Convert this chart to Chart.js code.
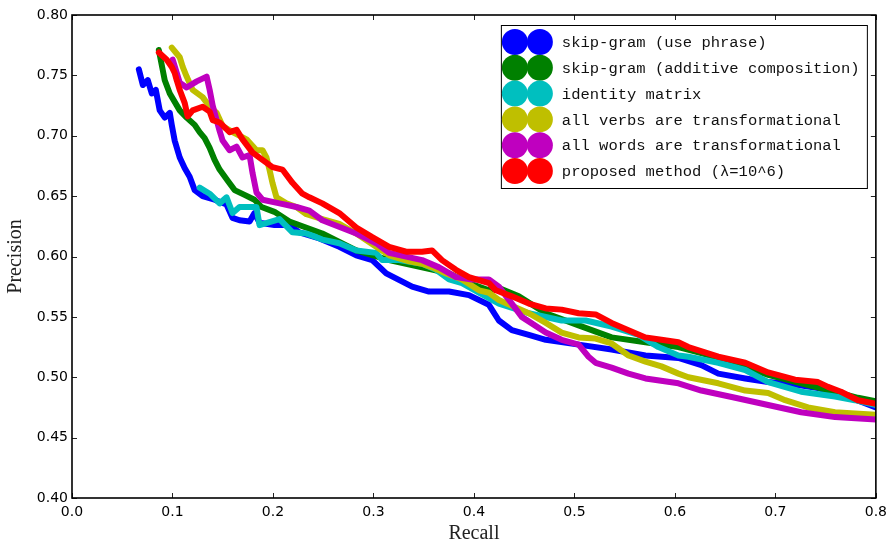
<!DOCTYPE html>
<html>
<head>
<meta charset="utf-8">
<script src="https://cdn.jsdelivr.net/npm/chart.js@4"></script>
<style>
  body { margin: 0; background: #fff; }
  #wrap { width: 893px; height: 544px; }
</style>
</head>
<body>
<div id="wrap"><canvas id="prCurve" width="893" height="544"></canvas></div>
<script>
// precision / recall points per method
const blueRecall = [0.0665, 0.0705, 0.0754, 0.0794, 0.0834, 0.0873, 0.0923, 0.0973, 0.0993, 0.1022, 0.1072, 0.1122, 0.1171, 0.1221, 0.1300, 0.1419, 0.1538, 0.1597, 0.1667, 0.1767, 0.1816, 0.1866, 0.2015, 0.2164, 0.2263, 0.2462, 0.2660, 0.2829, 0.2988, 0.3127, 0.3385, 0.3553, 0.3752, 0.3950, 0.4149, 0.4248, 0.4377, 0.4546, 0.4715, 0.5042, 0.5370, 0.5707, 0.6035, 0.6263, 0.6432, 0.6700, 0.6928, 0.7196, 0.7424, 0.7692, 0.8000];
const bluePrecision = [0.755, 0.742, 0.746, 0.735, 0.738, 0.721, 0.715, 0.719, 0.709, 0.696, 0.682, 0.673, 0.666, 0.655, 0.650, 0.647, 0.643, 0.632, 0.630, 0.629, 0.636, 0.628, 0.626, 0.626, 0.620, 0.615, 0.608, 0.601, 0.597, 0.586, 0.575, 0.571, 0.571, 0.568, 0.560, 0.547, 0.539, 0.535, 0.531, 0.527, 0.523, 0.518, 0.516, 0.510, 0.503, 0.499, 0.496, 0.494, 0.491, 0.485, 0.475];

const greenRecall = [0.0864, 0.0923, 0.0973, 0.1072, 0.1141, 0.1221, 0.1270, 0.1320, 0.1370, 0.1419, 0.1469, 0.1548, 0.1618, 0.1717, 0.1816, 0.1886, 0.2015, 0.2164, 0.2491, 0.2829, 0.3156, 0.3484, 0.3752, 0.3950, 0.4149, 0.4248, 0.4447, 0.4715, 0.5042, 0.5370, 0.5707, 0.6035, 0.6263, 0.6600, 0.6928, 0.7256, 0.7593, 0.7821, 0.8000];
const greenPrecision = [0.771, 0.746, 0.735, 0.721, 0.715, 0.709, 0.703, 0.698, 0.690, 0.680, 0.672, 0.663, 0.655, 0.651, 0.647, 0.641, 0.637, 0.629, 0.619, 0.605, 0.597, 0.591, 0.586, 0.578, 0.572, 0.574, 0.567, 0.553, 0.543, 0.533, 0.529, 0.525, 0.520, 0.512, 0.502, 0.495, 0.488, 0.483, 0.480];

const cyanRecall = [0.1270, 0.1370, 0.1469, 0.1538, 0.1598, 0.1667, 0.1836, 0.1866, 0.2065, 0.2194, 0.2333, 0.2432, 0.2491, 0.2660, 0.2829, 0.3027, 0.3087, 0.3256, 0.3484, 0.3623, 0.3752, 0.3881, 0.4050, 0.4248, 0.4546, 0.4873, 0.5112, 0.5370, 0.5638, 0.5836, 0.6035, 0.6134, 0.6432, 0.6700, 0.6928, 0.7256, 0.7593, 0.7791, 0.8000];
const cyanPrecision = [0.657, 0.652, 0.644, 0.649, 0.636, 0.641, 0.641, 0.626, 0.631, 0.620, 0.619, 0.616, 0.614, 0.611, 0.605, 0.603, 0.597, 0.597, 0.594, 0.589, 0.581, 0.578, 0.570, 0.561, 0.553, 0.547, 0.547, 0.542, 0.535, 0.525, 0.518, 0.517, 0.512, 0.506, 0.496, 0.488, 0.484, 0.481, 0.477];

const yellowRecall = [0.0993, 0.1072, 0.1102, 0.1141, 0.1201, 0.1300, 0.1370, 0.1439, 0.1499, 0.1598, 0.1737, 0.1836, 0.1896, 0.1935, 0.1965, 0.1995, 0.2035, 0.2134, 0.2233, 0.2333, 0.2491, 0.2660, 0.2829, 0.3027, 0.3156, 0.3355, 0.3484, 0.3583, 0.3722, 0.3881, 0.4050, 0.4149, 0.4248, 0.4546, 0.4715, 0.4873, 0.5042, 0.5211, 0.5370, 0.5538, 0.5707, 0.5866, 0.6035, 0.6134, 0.6432, 0.6700, 0.6928, 0.7097, 0.7325, 0.7593, 0.7791, 0.8000];
const yellowPrecision = [0.773, 0.765, 0.757, 0.749, 0.738, 0.732, 0.724, 0.719, 0.708, 0.703, 0.697, 0.688, 0.688, 0.682, 0.672, 0.661, 0.649, 0.644, 0.641, 0.635, 0.631, 0.627, 0.619, 0.608, 0.601, 0.596, 0.594, 0.591, 0.586, 0.581, 0.572, 0.570, 0.564, 0.553, 0.545, 0.537, 0.533, 0.532, 0.528, 0.518, 0.513, 0.509, 0.503, 0.500, 0.495, 0.489, 0.487, 0.481, 0.475, 0.471, 0.470, 0.469];

const magentaRecall = [0.1002, 0.1072, 0.1141, 0.1241, 0.1340, 0.1370, 0.1400, 0.1469, 0.1499, 0.1568, 0.1638, 0.1697, 0.1767, 0.1797, 0.1836, 0.1896, 0.2065, 0.2233, 0.2362, 0.2491, 0.2829, 0.3027, 0.3156, 0.3484, 0.3653, 0.3821, 0.3980, 0.4149, 0.4248, 0.4377, 0.4476, 0.4715, 0.4873, 0.5042, 0.5141, 0.5211, 0.5370, 0.5538, 0.5707, 0.6035, 0.6263, 0.6600, 0.6928, 0.7256, 0.7593, 0.8000];
const magentaPrecision = [0.763, 0.744, 0.740, 0.745, 0.749, 0.738, 0.725, 0.704, 0.696, 0.688, 0.691, 0.682, 0.684, 0.669, 0.653, 0.647, 0.644, 0.641, 0.638, 0.630, 0.619, 0.611, 0.603, 0.597, 0.591, 0.583, 0.581, 0.581, 0.575, 0.561, 0.550, 0.537, 0.531, 0.527, 0.517, 0.512, 0.508, 0.503, 0.499, 0.495, 0.489, 0.483, 0.477, 0.471, 0.467, 0.465];

const redRecall = [0.0864, 0.0943, 0.0993, 0.1022, 0.1042, 0.1072, 0.1122, 0.1151, 0.1201, 0.1300, 0.1370, 0.1400, 0.1469, 0.1568, 0.1638, 0.1697, 0.1797, 0.1896, 0.1995, 0.2094, 0.2194, 0.2293, 0.2362, 0.2491, 0.2660, 0.2829, 0.2988, 0.3156, 0.3325, 0.3484, 0.3583, 0.3682, 0.3821, 0.3950, 0.4149, 0.4218, 0.4377, 0.4546, 0.4715, 0.4873, 0.5042, 0.5211, 0.5370, 0.5538, 0.5707, 0.5866, 0.6035, 0.6134, 0.6432, 0.6700, 0.6928, 0.7196, 0.7424, 0.7524, 0.7653, 0.7821, 0.8000];
const redPrecision = [0.769, 0.763, 0.757, 0.752, 0.746, 0.738, 0.727, 0.716, 0.721, 0.724, 0.720, 0.713, 0.711, 0.703, 0.705, 0.697, 0.686, 0.680, 0.674, 0.672, 0.661, 0.652, 0.649, 0.644, 0.636, 0.624, 0.616, 0.608, 0.604, 0.604, 0.605, 0.597, 0.589, 0.583, 0.578, 0.572, 0.567, 0.561, 0.557, 0.556, 0.553, 0.552, 0.545, 0.539, 0.533, 0.531, 0.529, 0.525, 0.517, 0.512, 0.504, 0.498, 0.496, 0.492, 0.488, 0.481, 0.478];

const methodNames = [
  'skip-gram (use phrase)',
  'skip-gram (additive composition)',
  'identity matrix',
  'all verbs are transformational',
  'all words are transformational',
  'proposed method (λ=10^6)'
];
const methodColors = ['#0000ff', '#008000', '#00bfbf', '#bfbf00', '#bf00bf', '#ff0000'];

const xTicks = [0, 0.1, 0.2, 0.3, 0.4, 0.5, 0.6, 0.7, 0.8];
const yTicks = [0.40, 0.45, 0.50, 0.55, 0.60, 0.65, 0.70, 0.75, 0.80];

const recalls = [blueRecall, greenRecall, cyanRecall, yellowRecall, magentaRecall, redRecall];
const precisions = [bluePrecision, greenPrecision, cyanPrecision, yellowPrecision, magentaPrecision, redPrecision];

const datasets = methodNames.map((name, i) => ({
  label: name,
  data: recalls[i].map((r, j) => ({ x: r, y: precisions[i][j] })),
  showLine: true,
  borderColor: methodColors[i],
  backgroundColor: methodColors[i],
  borderWidth: 6,
  borderJoinStyle: 'round',
  borderCapStyle: 'round',
  pointRadius: 0,
  tension: 0,
  order: methodNames.length - i   // later methods drawn on top
}));

// frame around the plot with inward ticks on all four sides
const frameTicks = {
  id: 'frameTicks',
  afterDatasetsDraw(chart) {
    const { ctx, chartArea: a, scales } = chart;
    ctx.save();
    ctx.strokeStyle = '#222';
    ctx.lineWidth = 1;
    xTicks.forEach(v => {
      const px = Math.round(scales.x.getPixelForValue(v)) + 0.5;
      ctx.beginPath();
      ctx.moveTo(px, a.bottom); ctx.lineTo(px, a.bottom - 5);
      ctx.moveTo(px, a.top); ctx.lineTo(px, a.top + 5);
      ctx.stroke();
    });
    yTicks.forEach(v => {
      const py = Math.round(scales.y.getPixelForValue(v)) + 0.5;
      ctx.beginPath();
      ctx.moveTo(a.left, py); ctx.lineTo(a.left + 5, py);
      ctx.moveTo(a.right, py); ctx.lineTo(a.right - 5, py);
      ctx.stroke();
    });
    ctx.strokeStyle = '#000';
    ctx.lineWidth = 1.6;
    ctx.strokeRect(a.left, a.top, a.right - a.left, a.bottom - a.top);
    ctx.restore();
  }
};

// legend box in the upper right, two large dots per entry
const dotLegend = {
  id: 'dotLegend',
  afterDraw(chart) {
    const { ctx, chartArea: a } = chart;
    const w = 366, h = 163;
    const left = a.right - 9 - w, top = a.top + 10;
    ctx.save();
    ctx.fillStyle = '#fff';
    ctx.fillRect(left, top, w, h);
    ctx.strokeStyle = '#000';
    ctx.lineWidth = 1;
    ctx.strokeRect(left + 0.5, top + 0.5, w, h);
    ctx.font = '15.5px "Liberation Mono", monospace';
    ctx.textBaseline = 'middle';
    methodNames.forEach((name, i) => {
      const cy = top + 17 + i * 25.8;
      ctx.fillStyle = methodColors[i];
      [left + 14, left + 39].forEach(cx => {
        ctx.beginPath();
        ctx.arc(cx, cy, 13, 0, Math.PI * 2);
        ctx.fill();
      });
      ctx.fillStyle = '#111';
      ctx.fillText(name, left + 61, cy + 1);
    });
    ctx.restore();
  }
};

new Chart(document.getElementById('prCurve'), {
  type: 'scatter',
  data: { datasets },
  plugins: [frameTicks, dotLegend],
  options: {
    responsive: false,
    animation: false,
    layout: { padding: { left: 0, top: 15, right: 15, bottom: 0 } },
    plugins: { legend: { display: false }, tooltip: { enabled: false } },
    scales: {
      x: {
        type: 'linear',
        min: 0, max: 0.8,
        afterFit(scale) { scale.height = 46; },
        afterBuildTicks(scale) { scale.ticks = xTicks.map(v => ({ value: v })); },
        grid: { display: false, drawTicks: false },
        border: { display: false },
        ticks: {
          padding: 6,
          color: '#000',
          font: { family: '"DejaVu Sans", sans-serif', size: 14 },
          callback: v => v.toFixed(1)
        },
        title: {
          display: true,
          text: 'Recall',
          color: '#222',
          font: { family: '"Liberation Serif", serif', size: 20, lineHeight: 1 },
          padding: { top: 0, bottom: 0 }
        }
      },
      y: {
        type: 'linear',
        min: 0.4, max: 0.8,
        afterFit(scale) { scale.width = 72; },
        afterBuildTicks(scale) { scale.ticks = yTicks.map(v => ({ value: v })); },
        grid: { display: false, drawTicks: false },
        border: { display: false },
        ticks: {
          padding: 4,
          color: '#000',
          font: { family: '"DejaVu Sans", sans-serif', size: 14 },
          callback: v => v.toFixed(2)
        },
        title: {
          display: true,
          text: 'Precision',
          color: '#222',
          font: { family: '"Liberation Serif", serif', size: 20, lineHeight: 1 },
          padding: { top: 6, bottom: 0 }
        }
      }
    }
  }
});
</script>
</body>
</html>
